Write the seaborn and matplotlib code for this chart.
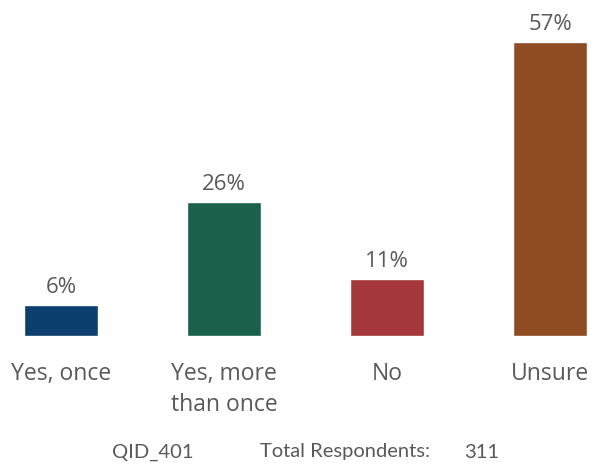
import pandas as pd
import seaborn as sns
import matplotlib.pyplot as plt

categories = ["Yes, once", "Yes, more\nthan once", "No", "Unsure"]
percent = [6, 26, 11, 57]
bar_colors = ["#0C3F6D", "#1B604D", "#A3373A", "#8F4C23"]
footer_qid = "QID_401"
footer_label = "Total Respondents:"
footer_total = "311"

df = pd.DataFrame({"answer": categories, "pct": percent})

sns.set_style("white")
plt.rcParams["font.family"] = ["Open Sans", "DejaVu Sans"]

fig = plt.figure(figsize=(5.96, 4.66), dpi=100)
ax = fig.add_axes([0, 130 / 466, 1, 336 / 466])

sns.barplot(data=df, x="answer", y="pct", hue="answer", palette=bar_colors,
            width=0.454, legend=False, ax=ax, saturation=1)

for cont in ax.containers:
    ax.bar_label(cont, fmt="%d%%", padding=5, fontsize=16, color="#595959")

ax.set_xlim(-0.374, 3.282)
ax.set_ylim(0, 65.1)
ax.set_yticks([])
ax.set_xlabel("")
ax.set_ylabel("")
ax.tick_params(axis="x", length=0, pad=19, labelsize=16.5, labelcolor="#595959")
for lbl in ax.get_xticklabels():
    lbl.set_linespacing(1.35)
sns.despine(ax=ax, left=True, bottom=True)

footer_y = 1 - 452 / 466
fig.text(153 / 596, footer_y, footer_qid, ha="center", va="center",
         fontsize=14.5, color="#595959", family=["Lato", "DejaVu Sans"])
fig.text(345 / 596, footer_y, footer_label, ha="center", va="center",
         fontsize=14.5, color="#595959", family=["Lato", "DejaVu Sans"])
fig.text(482 / 596, footer_y, footer_total, ha="center", va="center",
         fontsize=14.5, color="#595959", family=["Lato", "DejaVu Sans"])

fig.savefig("out.png", dpi=100)
